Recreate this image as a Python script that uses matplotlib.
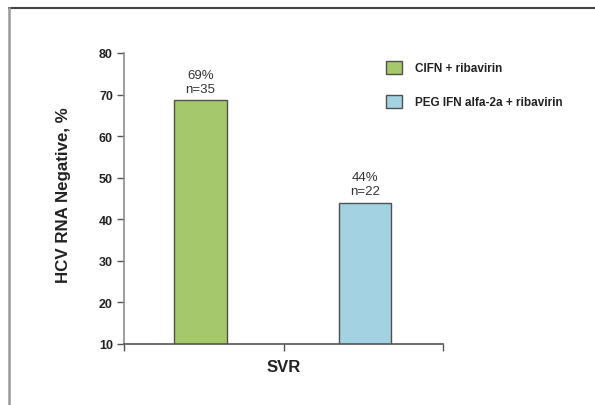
#!/usr/bin/env python3
"""SVR bar chart: HCV RNA negative rates, CIFN vs PEG IFN."""

import matplotlib.pyplot as plt
from matplotlib.lines import Line2D

plt.rcParams['font.family'] = ['Liberation Sans', 'DejaVu Sans']

# data
groups = ['CIFN + ribavirin', 'PEG IFN alfa-2a + ribavirin']
values = [68.6, 44.0]
pct_labels = ['69%', '44%']
n_counts = [35, 22]
yticks = [10, 20, 30, 40, 50, 60, 70, 80]
xlabel = 'SVR'
ylabel = 'HCV RNA Negative, %'

green = '#a5c96a'
blue = '#a3d3e3'
edgecol = '#505050'
textcol = '#222222'

W, H = 595, 406
fig = plt.figure(figsize=(W / 100, H / 100), dpi=100)
fig.patch.set_facecolor('white')

# partial frame round the slide (top and left edges only)
fig.add_artist(Line2D([9 / W, 1], [1 - 8.5 / H, 1 - 8.5 / H], transform=fig.transFigure,
                      color='#444444', lw=1.5))
fig.add_artist(Line2D([9 / W, 9 / W], [0, 1 - 8.5 / H], transform=fig.transFigure,
                      color='#999999', lw=1.8))

ax = fig.add_axes([124 / W, (H - 345) / H, (443 - 124) / W, (345 - 54) / H])

xpos = [0.48, 1.51]
bars = ax.bar(xpos, values, width=0.33, color=[green, blue],
              edgecolor=edgecol, linewidth=1.0, zorder=2)

for b, p, n in zip(bars, pct_labels, n_counts):
    ax.annotate(f'{p}\nn={n}', (b.get_x() + b.get_width() / 2, b.get_height()),
                xytext=(0, 4), textcoords='offset points', ha='center', va='bottom',
                fontsize=9.5, color='#333333', linespacing=1.25)

ax.set_xlim(0, 2)
ax.set_ylim(10, 80)
ax.set_yticks(yticks)
ax.set_xticks([0, 1, 2])
ax.set_xticklabels(['', '', ''])

for s in ['top', 'right']:
    ax.spines[s].set_visible(False)
ax.spines['left'].set_color('#8c8c8c')
ax.spines['bottom'].set_color('#555555')
ax.spines['left'].set_linewidth(1.2)
ax.spines['bottom'].set_linewidth(1.2)
ax.tick_params(axis='y', direction='out', length=5, width=1, color='#555555',
               labelsize=9, labelcolor=textcol, pad=3)
ax.tick_params(axis='x', direction='out', length=5, width=1, color='#555555')
for t in ax.get_yticklabels():
    t.set_fontweight('bold')

ax.set_xlabel(xlabel, fontsize=12, fontweight='bold', color=textcol)
ax.xaxis.set_label_coords(0.5, -0.052)
ax.set_ylabel(ylabel, fontsize=12.2, fontweight='bold', color=textcol)
ax.yaxis.set_label_coords(-0.166, 0.515)

# legend
for b, g in zip(bars, groups):
    b.set_label(g)
ax.legend(handles=list(bars), loc='upper left', bbox_to_anchor=(386 / W, 1 - 62 / H),
          bbox_transform=fig.transFigure, frameon=False,
          prop={'weight': 'bold', 'size': 8.5}, handlelength=1.36, handleheight=1.3,
          handletextpad=1.1, labelspacing=1.75, borderpad=0, borderaxespad=0,
          labelcolor=textcol)

fig.savefig('out.png', dpi=100, facecolor='white')
